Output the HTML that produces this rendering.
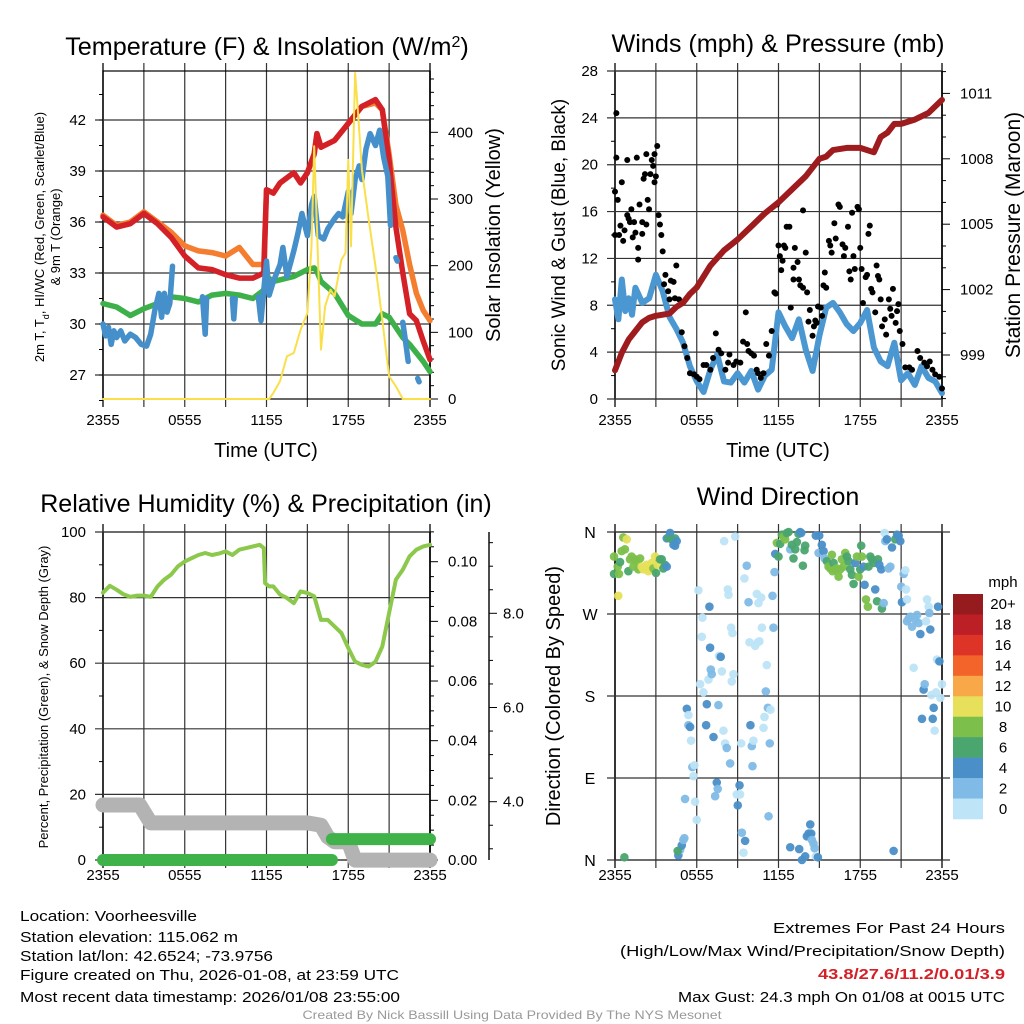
<!DOCTYPE html>
<html><head><meta charset="utf-8"><style>
html,body{margin:0;padding:0;background:#fff}
svg{display:block;font-family:"Liberation Sans",sans-serif}
</style></head><body>
<svg id="root" width="1024" height="1024" viewBox="0 0 1024 1024" xmlns="http://www.w3.org/2000/svg"></svg>
<script>
// ---------- DATA ----------
const tempT = [0,1,2,3,4,5,6,7,8,9,10,11,11.8,12,12.5,13,14,14.5,15,15.5,15.7,16,17,18,19,20,20.5,21,21.5,22,22.5,23,23.5,24];
const tempRed = [36.3,35.7,35.9,36.5,35.9,35.1,34.0,33.3,33.2,32.9,32.7,32.7,33.0,37.9,37.7,38.3,38.9,38.3,38.9,40.0,41.2,40.4,40.8,41.8,42.8,43.2,42.6,39.6,35.7,33.0,30.6,30.2,29.0,27.9];
const tempOrange = [36.4,35.8,36.0,36.6,36.0,35.4,34.6,34.3,34.2,34.0,34.5,33.5,33.5,37.9,37.7,38.3,38.9,38.3,38.9,40.0,41.2,40.4,40.8,41.8,42.8,43.0,42.6,40.0,37.0,35.5,33.5,31.8,30.8,30.2];
const tempGreen = [31.2,31.0,30.5,30.9,31.2,31.6,31.5,31.3,31.7,31.8,31.7,31.5,32.0,32.8,32.5,32.6,32.8,33.0,33.2,33.3,33.1,32.5,31.8,30.5,30.0,30.0,30.6,30.4,29.8,29.2,28.8,28.3,27.8,27.2];
const hiwcT = [0,0.2,0.4,0.6,0.8,1,1.3,1.6,2,2.4,2.8,3.2,3.5,3.8,4.1,4.3,4.5,4.7,4.9,5.1,null,7.3,7.5,7.6,null,9.5,9.6,9.7,null,11.4,11.6,11.8,12,12.2,12.5,13,13.2,13.5,14,14.3,14.6,15,15.3,15.5,15.8,16.2,16.5,17,17.3,17.6,18,18.2,18.5,18.8,19,19.3,19.6,20,20.3,20.6,20.9,21.1,null,21.5,21.6,null,22.0,22.2,22.4,null,23.1,23.2];
const hiwcV = [30,29.3,29.8,28.8,29.6,29.2,29.6,29,29.4,29.2,28.8,28.7,29.4,30.8,31.8,30.4,31.8,30.7,31.2,33.4,null,31.6,29.4,31.5,null,31.5,30.3,31.5,null,31.6,30.2,32,33.7,31.7,32.5,33.5,34.5,32.8,34.3,35.3,36.5,35.2,37,37.5,35.2,35,35.6,36.2,36.5,36.3,37.8,36.5,38.5,39.3,38.5,40.3,41.2,40.5,41.4,39.8,38.7,35.8,null,33.9,33.7,null,30.1,29.0,27.8,null,26.8,26.6];
const solarT = [0,12.2,12.5,13,13.5,14,14.5,15,15.3,15.5,15.7,16,16.3,16.7,17,17.5,17.8,18.0,18.2,18.5,18.7,19,19.5,20,20.5,21,21.5,22,24];
const solarV = [0,0,9,27,64,69,104,129,229,379,259,74,139,164,154,209,219,359,229,489,434,344,269,199,119,34,19,0,0];
const presT = [0,0.5,1,1.5,2,2.5,3,4,4.5,5,5.5,6,7,8,9,10,11,12,13,14,15,15.5,16,17,18,19,19.5,20,20.5,21,22,23,24];
const presV = [998.3,999.1,999.7,1000.1,1000.5,1000.7,1000.8,1000.9,1001.2,1001.4,1001.8,1002.1,1003.1,1003.8,1004.3,1004.9,1005.5,1006.0,1006.6,1007.2,1008.0,1008.1,1008.4,1008.5,1008.5,1008.3,1009.0,1009.2,1009.6,1009.6,1009.8,1010.1,1010.7];
const windT = [0,0.25,0.5,0.75,1,1.25,1.5,2,2.5,3,3.5,4,4.5,5,5.5,6,6.5,7,7.5,8,8.5,9,9.5,10,10.5,11,11.5,12,12.5,13,13.5,14,14.5,15,15.5,16,16.5,17,17.5,18,18.5,19,19.5,20,20.5,21,21.5,22,22.5,23,23.5,24];
const windV = [8.5,6.8,10.2,7.5,8.6,7.2,9.5,8.2,8.6,10.6,9.2,7.0,6.0,4.8,2.8,1.5,0.6,2.5,3.8,1.5,1.4,2.2,1.4,2.4,0.8,2.0,2.5,7.4,6.2,5.2,6.8,4.2,2.4,5.4,7.8,8.2,7.4,6.4,5.8,6.5,7.6,4.4,3.2,2.8,4.8,1.6,2.2,1.2,2.8,1.8,1.5,0.5];
const gustT = [0,0.1,0.1,0,0.2,0.3,0.4,0.5,0.6,0.7,0.9,0.9,1,1.1,1.2,1.3,1.4,1.5,1.6,1.7,1.7,1.8,2,2,2.1,2.2,2.3,2.3,2.4,2.5,2.6,2.7,2.8,2.9,2.9,3,3.1,3.2,3.3,3.4,3.5,3.6,3.7,3.9,4,4.1,4.3,4.4,4.5,4.7,4.9,5.1,5.3,5.5,5.8,6,6.2,6.5,6.7,7,7.2,7.4,7.6,7.8,8.1,8.3,8.4,8.7,8.9,9.2,9.4,9.6,9.7,9.8,10,10.2,10.4,10.5,10.7,10.9,11.1,11.3,11.5,11.7,11.8,11.9,12,12.1,12.2,12.3,12.4,12.5,12.6,12.8,12.9,13.1,13.1,13.2,13.4,13.5,13.6,13.8,13.8,14,14.1,14.2,14.3,14.5,14.6,14.7,14.8,14.9,15.1,15.2,15.3,15.4,15.5,15.7,15.8,15.9,16.1,16.2,16.4,16.5,16.7,16.8,16.9,17.1,17.2,17.3,17.4,17.5,17.6,17.8,17.9,18,18.1,18.2,18.4,18.5,18.6,18.7,18.8,18.9,19.1,19.2,19.3,19.4,19.5,19.6,19.8,19.9,20.1,20.2,20.3,20.4,20.6,20.7,20.8,20.9,21.1,21.3,21.6,21.8,22.2,22.4,22.7,22.9,23.1,23.3,23.5,23.8,24];
const gustV = [14,24.4,20.6,17.7,17,14,14.8,18.5,13.5,14.4,20.4,15.7,15.4,15.1,16.2,13.8,15.1,14.2,20.6,12.9,11.9,16.6,15.1,14.1,18.8,19.2,14.9,20.9,17,16.2,19.2,20.4,19.9,20.9,18.5,19,21.6,15.7,14.9,14,12.6,9.8,10.6,9.2,8.5,10.1,10,8.6,11.4,8.5,5.7,4.5,3.5,2.2,2.1,1.9,1.7,2.9,2.9,2.5,3.5,5.6,4.2,3.9,2.5,3.1,3.8,2.9,3.2,3.1,4.9,7.4,4.7,4.1,3.9,3.7,2.5,2.2,1.8,2.2,4.7,3.7,5.8,9.1,9,16.6,13.1,12.2,11,11.8,13.1,12.9,14.7,14.7,7.8,11.2,10.2,12.9,11.7,10.2,9.7,9.5,16.1,12.5,9.1,6.6,7.6,5.4,6.2,6.7,6.5,7.9,7.8,7.1,9.7,10.8,9.5,13.5,13.1,12.5,15,13.7,16.6,16.4,13.2,12.2,12.9,14.7,10.9,10.2,15.9,12.2,11.1,16.4,16.2,12.9,11.1,8.2,10.4,10.6,14.1,14.8,9.4,9.1,7.4,11.4,10.5,10.2,8.5,6.2,6.8,5.5,8.5,7.7,7.1,9.4,6.5,7.5,8.1,5.8,4.7,2.7,2.7,2.5,4.1,3.5,3.1,2.8,3.2,2.5,2.1,1.9,0.9];
const rhT = [0,0.5,1,1.5,2,2.5,3,3.5,4,4.5,5,5.5,6,6.5,7,7.5,8,8.5,9,9.5,10,10.5,11,11.5,11.8,11.9,12.2,12.5,13,13.5,14,14.5,15,15.5,16,16.5,17,17.5,18,18.5,19,19.5,20,20.5,21,21.5,22,22.5,23,23.5,24];
const rhV = [81.5,83.6,82.4,81,80.2,80.6,80.6,80.2,83.4,85.5,87,89.5,91,92,93,93.6,93,93.4,94.1,93,94.6,95.1,95.6,96.1,95.1,84.4,83.4,83.4,80.9,79.9,78.3,81.9,81.4,80.4,73.2,73.2,71.2,69.2,64.6,60.5,59.5,59,60.5,65.1,75.3,85.5,88.5,92.6,94.6,95.6,96.1];
const snowT = [0,2.7,3.5,15,16,16.5,17,18,18.5,24];
const snowV = [3.93,3.93,3.55,3.55,3.5,3.25,3.15,3.15,2.76,2.76];
const precipT = [0,16.8,16.8,24];
const precipV = [0,0,0.007,0.007];
const dirT = [];
const dirV = [];
const dirSpd = [];
const dirRaw = "307,232,G 307,283,D 318,260,G 322,282,G 325,247,D 330,215,G 335,172,G 340,210,G 345,180,Y 320,347,Y 350,275,D 355,240,G 360,230,G 365,260,G 370,240,G 375,245,G 380,270,G 385,235,G 390,260,Y 395,270,Y 400,265,Y 405,255,Y 410,275,Y 415,260,Y 420,250,Y 425,265,G 430,230,Y 433,280,D 438,255,Y 445,240,D 450,240,D 455,265,D 460,255,D 465,260,B 465,175,B 470,172,D 475,160,B 480,178,D 485,195,B 490,175,D 495,185,B 490,197,B 338,1133,D 500,1125,B 505,1110,L 510,1095,B 515,1080,L 518,1075,L 498,1112,D 520,958,L 525,687,B 530,705,P 530,735,L 535,740,B 538,782,P 542,862,L 548,857,P 545,890,P 550,965,P 555,1020,P 560,333,P 565,612,P 570,470,P 572,413,P 575,637,P 585,673,B 583,735,B 590,600,P 593,380,B 595,503,B 597,570,L 600,582,L 605,772,B 610,950,L 615,907,B 618,928,L 620,677,L 622,528,P 627,530,B 630,575,P 635,752,P 637,185,P 640,790,P 645,805,L 648,330,P 650,345,P 655,850,L 658,445,P 660,605,P 662,460,P 665,582,P 670,170,P 675,943,P 678,975,B 683,917,B 685,943,P 688,790,P 690,1057,L 695,1117,P 698,295,P 700,1083,B 705,257,L 710,367,L 713,487,P 716,737,B 720,800,L 722,860,L 725,782,P 730,497,P 735,342,P 738,487,P 740,370,P 743,485,P 748,353,P 750,445,P 755,745,P 758,712,P 762,635,L 765,555,P 768,685,L 770,1010,L 774,790,L 776,690,P 782,348,L 785,445,L 788,278,L 790,222,B 795,190,G 800,230,D 805,193,D 810,165,D 815,170,G 820,178,G 825,160,D 830,157,D 835,210,L 840,195,D 845,237,D 850,210,D 855,188,D 860,162,D 865,157,B 868,160,B 873,258,D 878,212,D 880,198,D 835,1103,B 862,1108,B 870,1140,B 880,1130,B 885,1070,B 890,1062,B 895,1033,B 898,1062,B 900,1080,L 905,1090,L 908,1105,L 912,1130,P 918,1133,B 912,167,B 922,167,B 920,220,L 930,195,B 935,215,B 938,237,L 945,245,D 950,260,G 955,265,G 960,225,G 962,275,G 965,250,D 970,270,G 975,265,G 980,290,G 985,270,G 990,240,G 995,260,G 1000,220,G 1005,232,D 1010,245,D 1015,270,D 1020,285,D 1025,312,D 1030,250,B 1035,230,G 1040,290,G 1045,270,D 1048,198,D 1050,230,G 1055,262,B 1058,315,B 1062,360,G 1068,380,G 1070,260,D 1075,230,D 1080,240,D 1085,250,D 1090,330,B 1095,365,D 1098,240,D 1102,255,B 1108,270,B 1110,385,D 1115,370,L 1118,160,P 1120,185,L 1125,178,B 1130,265,L 1135,260,L 1140,202,B 1145,1113,B 1150,180,D 1155,165,B 1160,168,B 1165,183,B 1168,320,L 1170,367,B 1175,283,L 1180,272,P 1182,330,P 1185,360,P 1185,425,L 1190,415,L 1195,410,L 1200,440,L 1205,565,P 1210,420,L 1215,405,L 1220,430,L 1225,462,B 1230,717,B 1235,630,B 1238,612,L 1242,425,P 1245,360,P 1250,380,P 1252,400,L 1255,448,B 1258,645,P 1262,718,B 1265,683,B 1268,752,P 1272,637,P 1275,540,P 1278,380,B 1282,545,B 1285,655,P 1290,612,P";
const spdCode = {P:1,L:3,B:5,D:7,G:9,Y:11};
dirRaw.split(' ').forEach(s=>{const [a,b,c]=s.split(',');dirT.push(+((+a-310)/40.83).toFixed(2));dirV.push(+(((1140-+b)*0.3662)).toFixed(0));dirSpd.push(spdCode[c]);});
const timeLabels = ["2355","0555","1155","1755","2355"];
const cbLabels = ["20+","18","16","14","12","10","8","6","4","2","0"];
const cbColors = ["#951b1e","#bd1f26","#dd3427","#f2642a","#f8a848","#e6e05a","#7cc04b","#4aa56e","#4a8fc8","#7fbbe6","#bde4f7"];

// ---------- HELPERS ----------
const NS="http://www.w3.org/2000/svg";
const root=document.getElementById('root');
function mk(tag,attrs,name,parent){
  const el=document.createElementNS(NS,tag);
  for(const k in attrs) el.setAttribute(k,attrs[k]);
  
  
  (parent||root).appendChild(el);
  return el;
}
function txt(s,x,y,size,anchor,name,extra){
  const a=Object.assign({x:x,y:y,'font-size':size,'text-anchor':anchor||'middle',fill:'#000'},extra||{});
  const t=mk('text',a,name);
  t.textContent=s;
  return t;
}
function vtxt(s,x,y,size,name){
  const t=mk('text',{x:0,y:0,'font-size':size,'text-anchor':'middle',transform:`translate(${x},${y}) rotate(-90)`},name);
  t.textContent=s;return t;
}
function line(x1,y1,x2,y2,w,c,name){return mk('line',{x1,y1,x2,y2,stroke:c||'#000','stroke-width':w||1},name);}
function pathFrom(ts,vs,fx,fy){
  let d='',pen=false;
  for(let i=0;i<ts.length;i++){
    if(ts[i]===null||vs[i]===null){pen=false;continue;}
    d+=(pen?'L':'M')+fx(ts[i]).toFixed(1)+','+fy(vs[i]).toFixed(1);
    pen=true;
  }
  return d;
}
function series(ts,vs,fx,fy,w,c,name){
  return mk('path',{d:pathFrom(ts,vs,fx,fy),fill:'none',stroke:c,'stroke-width':w,'stroke-linejoin':'round','stroke-linecap':'round'},name);
}
function frame(x0,x1,y0,y1,pfx){
  const fx=t=>x0+(x1-x0)*t/24;
  for(let h=0;h<=24;h+=3){const x=fx(h);line(x,y0-8,x,y1+8,(h===0||h===24)?1.6:1.2,'#333',pfx+'-vgrid');}
  mk('rect',{x:x0,y:y0,width:x1-x0,height:y1-y0,fill:'none',stroke:'#000','stroke-width':1.2},pfx+'-frame');
  return fx;
}
function xlabels(fx,y,pfx){timeLabels.forEach((l,i)=>txt(l,fx(i*6),y,15,'middle',pfx+'-x-tick-label'));}

// ---------- PANEL 1: Temperature ----------
{
  const x0=103,x1=430,y0=71,y1=399;
  const fx=frame(x0,x1,y0,y1,'temp');
  const fy=F=>120+(42-F)*17;
  const fw=W=>399-W*0.6667;
  [27,30,33,36,39,42].forEach(v=>{line(x0-8,fy(v),x1,fy(v),1.2,'#333','temp-hgrid');txt(String(v),86,fy(v)+5,15,'end','temp-y-tick-label');});
  for(let v=25.5;v<=44.9;v+=1.5){line(x0-4,fy(v),x0,fy(v),1,'#000','temp-y-minor-tick');}
  line(x1,y0,x1,y1,1.4,'#000','solar-axis');
  for(let w=0;w<=480;w+=20){const big=w%100===0;line(x1,fw(w),x1+(big?8:4),fw(w),1,'#000','solar-tick');if(big)txt(String(w),448,fw(w)+5,15,'start','solar-tick-label');}
  series(tempT,tempOrange,fx,fy,5.5,'#f47d30','series-9m-temp');
  series(tempT,tempRed,fx,fy,5.5,'#d42027','series-2m-temp');
  series(tempT,tempGreen,fx,fy,5.5,'#3db049','series-dewpoint');
  series(hiwcT,hiwcV,fx,fy,5.5,'#4590cb','series-hi-wc');
  series(solarT,solarV,fx,fw,2,'#f9e04b','series-solar');
  xlabels(fx,425,'temp');
  txt('Time (UTC)',266,457,20,'middle','temp-x-axis-title');
  const t=txt('Temperature (F) & Insolation (W/m',267,55,25.2,'middle','temp-title');
  const s=document.createElementNS(NS,'tspan');s.setAttribute('baseline-shift','super');s.setAttribute('font-size','16');s.textContent='2';t.appendChild(s);
  const s2=document.createElementNS(NS,'tspan');s2.textContent=')';t.appendChild(s2);
  const yt=mk('text',{x:0,y:0,'font-size':13,'text-anchor':'middle',transform:'translate(44,237) rotate(-90)'},'temp-y-axis-title');
  yt.appendChild(document.createTextNode('2m T, T'));
  const sub=document.createElementNS(NS,'tspan');sub.setAttribute('baseline-shift','sub');sub.setAttribute('font-size','9');sub.textContent='d';yt.appendChild(sub);
  const rest=document.createElementNS(NS,'tspan');rest.setAttribute('baseline-shift','0');rest.textContent=', HI/WC (Red, Green, Scarlet/Blue)';yt.appendChild(rest);
  vtxt('& 9m T (Orange)',60,237,13,'temp-y-axis-title-2');
  vtxt('Solar Insolation (Yellow)',500,235,20,'solar-axis-title');
}
// ---------- PANEL 2: Winds ----------
{
  const x0=615,x1=942,y0=71,y1=399;
  const fx=frame(x0,x1,y0,y1,'wind');
  const fy=m=>399-m*328/28;
  const fp=p=>355-(p-999)*21.8;
  for(let v=0;v<=28;v+=4){line(x0-8,fy(v),x1,fy(v),1.2,'#333','wind-hgrid');txt(String(v),598,fy(v)+5,15,'end','wind-y-tick-label');}
  for(let v=2;v<28;v+=4){line(x0-4,fy(v),x0,fy(v),1,'#000','wind-y-minor-tick');}
  line(x1,y0,x1,y1,1.4,'#000','pressure-axis');
  for(let p=997;p<=1012;p+=1){const big=(p-999)%3===0;line(x1,fp(p),x1+(big?8:4),fp(p),1,'#000','pressure-tick');if(big)txt(String(p),960,fp(p)+5,15,'start','pressure-tick-label');}
  series(windT,windV,fx,fy,6,'#4b97d1','series-sonic-wind');
  gustT.forEach((t,i)=>{mk('circle',{cx:fx(t),cy:fy(gustV[i]),r:3,fill:'#000'},'gust-point');});
  series(presT,presV,fx,fp,6,'#9e1b1e','series-pressure');
  xlabels(fx,425,'wind');
  txt('Time (UTC)',778,457,20,'middle','wind-x-axis-title');
  txt('Winds (mph) & Pressure (mb)',778,52,25.2,'middle','wind-title');
  vtxt('Sonic Wind & Gust (Blue, Black)',565,235,19,'wind-y-axis-title');
  vtxt('Station Pressure (Maroon)',1020,235,21,'pressure-axis-title');
}
// ---------- PANEL 3: RH ----------
{
  const x0=103,x1=430,y0=532,y1=860;
  const fx=frame(x0,x1,y0,y1,'rh');
  const fy=r=>860-r*3.28;
  const fpr=p=>860-p*2983;
  const fs=s=>801.7-(s-4)*47.1;
  for(let v=0;v<=100;v+=20){line(x0-8,fy(v),x1,fy(v),1.2,'#333','rh-hgrid');txt(String(v),86,fy(v)+5,15,'end','rh-y-tick-label');}
  for(let v=10;v<100;v+=20){line(x0-4,fy(v),x0,fy(v),1,'#000','rh-y-minor-tick');}
  line(x1,y0,x1,y1,1.4,'#000','precip-axis');
  for(let i=0;i<=22;i++){const p=i*0.005;const big=i%4===0;line(x1,fpr(p),x1+(big?8:4),fpr(p),1,'#000','precip-tick');if(big)txt(p.toFixed(2),448,fpr(p)+5,15,'start','precip-tick-label');}
  line(489,y0,489,y1,1.4,'#000','snow-axis');
  for(let s=3;s<=9.5;s+=0.5){const big=s%2===0;line(489,fs(s),489+(big?8:4),fs(s),1,'#000','snow-tick');if(big)txt(s.toFixed(1),503,fs(s)+5,15,'start','snow-tick-label');}
  series(snowT,snowV,fx,fs,15,'#b3b3b3','series-snow-depth');
  series(precipT.slice(0,2),precipV.slice(0,2),fx,fpr,12,'#3fb34a','series-precip');
  series(precipT.slice(2),precipV.slice(2),fx,fpr,12,'#3fb34a','series-precip-2');
  series(rhT,rhV,fx,fy,4,'#8cc84b','series-rh');
  xlabels(fx,880,'rh');
  txt('Relative Humidity (%) & Precipitation (in)',266,512,25,'middle','rh-title');
  vtxt('Percent, Precipitation (Green), & Snow Depth (Gray)',48,697,13,'rh-y-axis-title');
}
// ---------- PANEL 4: Wind Direction ----------
{
  const x0=615,x1=942,y0=532,y1=860;
  const fx=frame(x0,x1,y0,y1,'dir');
  const fy=d=>860-d*328/360;
  ['N','E','S','W','N'].forEach((l,i)=>{const y=fy(i*90);line(x0-8,y,x1+8,y,1.2,'#333','dir-hgrid');txt(l,590,y+6,16,'middle','dir-y-tick-label');});
  const col=s=>s>=20?cbColors[0]:cbColors[10-Math.floor(s/2)];
  dirT.forEach((t,i)=>{mk('circle',{cx:fx(t),cy:fy(dirV[i]),r:4.3,fill:col(dirSpd[i]),'fill-opacity':0.95},'dir-point');});
  xlabels(fx,880,'dir');
  txt('Wind Direction',778,505,25,'middle','dir-title');
  vtxt('Direction (Colored By Speed)',560,696,20,'dir-y-axis-title');
  const h=(819-594)/11;
  cbColors.forEach((c,i)=>{mk('rect',{x:953,y:594+i*h,width:30,height:h+0.3,fill:c},'colorbar-box');txt(cbLabels[i],1003,594+i*h+h/2+5,15,'middle','colorbar-label');});
  txt('mph',1003,587,15,'middle','colorbar-title');
}
// ---------- FOOTER ----------
const left=[["Location: Voorheesville",921,177],["Station elevation: 115.062 m",942,218],["Station lat/lon: 42.6524; -73.9756",961,253],["Figure created on Thu, 2026-01-08, at 23:59 UTC",980,379],["Most recent data timestamp: 2026/01/08 23:55:00",1002,380]];
left.forEach(l=>txt(l[0],20,l[1],15,'start','footer-info-line',{textLength:l[2],lengthAdjust:'spacingAndGlyphs'}));
txt('Extremes For Past 24 Hours',1005,933,15,'end','extremes-title',{textLength:232,lengthAdjust:'spacingAndGlyphs'});
txt('(High/Low/Max Wind/Precipitation/Snow Depth)',1005,956,15,'end','extremes-subtitle',{textLength:385,lengthAdjust:'spacingAndGlyphs'});
txt('43.8/27.6/11.2/0.01/3.9',1005,979,15,'end','extremes-values',{textLength:187,lengthAdjust:'spacingAndGlyphs',fill:'#d42027','font-weight':'bold'});
txt('Max Gust: 24.3 mph On 01/08 at 0015 UTC',1005,1002,15,'end','max-gust',{textLength:327,lengthAdjust:'spacingAndGlyphs'});
txt('Created By Nick Bassill Using Data Provided By The NYS Mesonet',512,1019,12,'middle','credits',{textLength:419,lengthAdjust:'spacingAndGlyphs',fill:'#999'});
</script>
</body></html>
